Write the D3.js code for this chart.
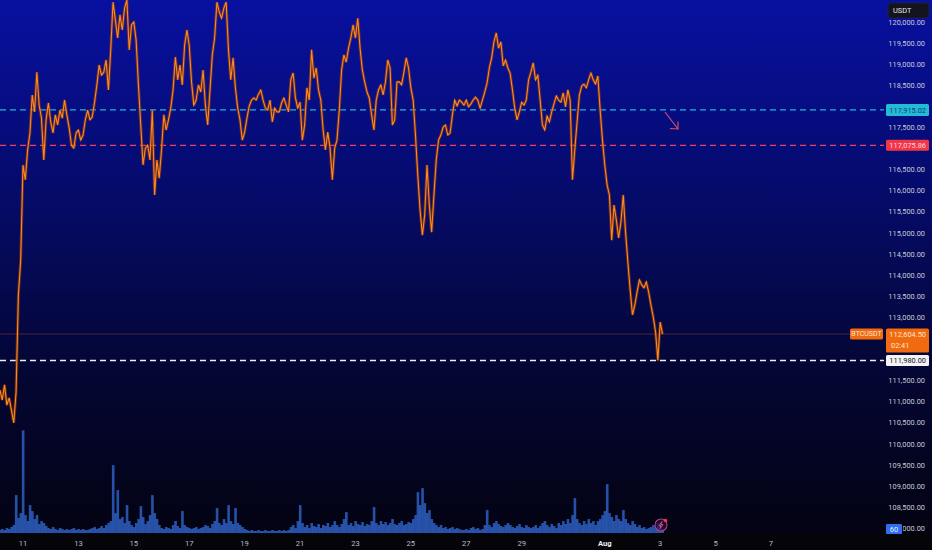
<!DOCTYPE html>
<html><head><meta charset="utf-8">
<script src="https://cdn.jsdelivr.net/npm/d3@7"></script>
<style>html,body{margin:0;padding:0;background:#05050c;}svg{display:block}</style>
</head><body><svg id="c" width="932" height="550"></svg>
<script>
// ---- data (BTCUSDT, 2h samples from 2025-07-10 04:00) ----
const startTime = Date.UTC(2025, 6, 10, 4);
const stepHours = 2;
const prices = [
111280,111040,111400,110920,111090,110800,110500,111230,113530,114360,
116610,116260,116970,117370,118270,117870,118810,118030,117720,116730,
117680,118080,117630,117370,117800,117560,117910,117720,118150,117800,
117490,117080,117010,117370,117440,117200,117320,117680,117910,117680,
117750,118100,118510,118980,118740,118810,119100,118390,119340,120470,
120050,119620,120170,119810,120330,120520,119340,119930,120000,119570,
118510,117560,116610,117010,117080,116730,117910,115900,116730,116300,
116970,117800,117440,117680,117960,118390,119170,118630,118980,118510,
119450,119810,119450,118580,118030,118150,118510,118340,118860,118030,
117560,118390,119220,119620,120470,120240,120090,120330,120470,119340,
118630,119150,118440,117960,117680,117200,117390,117720,118010,118150,
118200,118150,118290,118390,118150,117960,117910,118150,117630,117960,
117870,117870,118080,118200,118030,117870,118630,118790,118200,117960,
118100,117200,117560,118440,118150,119340,118670,118910,118390,118150,
117440,116970,117390,117010,116260,117010,117200,117910,118860,119220,
119050,119380,119620,119930,119620,120090,119380,118860,118580,118340,
118200,117800,117440,118150,118390,118510,118270,118580,119100,118910,
117560,117680,118580,118580,118510,118810,119150,118910,118440,118150,
117320,116370,115540,114950,115430,116610,115660,115020,115900,116730,
117200,117320,117510,117560,117320,117370,117800,118150,118010,118150,
118100,118030,118150,117990,118060,118150,118220,118150,117960,118150,
118340,118550,118910,119150,119530,119740,119380,119530,118960,119100,
118910,118790,118390,117960,117680,117870,118100,118030,118150,118630,
118810,119030,118630,118740,118150,117560,117440,117770,117630,117870,
118060,118250,118150,118100,118320,117990,118390,118150,116260,116970,
117630,118270,118480,118530,118440,118630,118790,118630,118530,118720,
117910,117200,116610,116140,115900,114830,115660,115310,114880,115260,
115900,115020,114310,113650,113060,113290,113600,113890,113770,113700,
113840,113600,113290,113010,112650,111980,112890,112604.5
];
const volumes = [
45,60,45,75,60,90,120,570,225,300,
1545,270,180,420,330,210,270,135,180,150,
105,75,60,90,60,45,75,60,45,60,
45,60,75,45,60,45,60,45,45,60,
75,90,60,75,105,75,120,150,180,1020,
300,645,210,240,150,420,180,120,90,150,
210,405,240,135,180,270,570,300,210,120,
75,60,90,75,60,120,180,105,75,330,
120,90,75,60,75,90,60,75,90,120,
105,75,135,180,375,150,120,210,150,420,
180,135,375,150,120,90,60,45,30,45,
30,30,45,30,30,45,30,30,45,30,
30,45,30,45,30,45,90,120,75,180,
420,150,90,120,75,150,105,90,135,75,
120,105,150,90,120,180,120,90,135,210,
315,120,150,105,180,135,120,165,105,135,
120,180,390,150,120,180,135,165,120,150,
210,135,120,150,180,120,135,165,150,210,
270,615,420,675,450,300,345,210,150,120,
90,120,75,90,60,75,90,60,75,60,
45,45,60,45,75,90,60,75,45,60,
120,345,120,90,150,180,135,105,90,120,
150,120,90,75,105,135,90,75,120,90,
75,90,120,75,105,150,180,120,90,135,
105,75,150,120,180,135,210,150,270,525,
210,150,120,180,135,210,150,180,120,180,
210,270,330,735,300,240,180,270,210,180,
345,210,150,120,180,135,90,120,75,90,
60,75,90,120,75,150,105,60
];
const priceTicks = [108000,108500,109000,109500,110000,110500,111000,111500,112000,112500,113000,113500,114000,114500,115000,115500,116000,116500,117000,117500,118000,118500,119000,119500,120000];
const dayTickDates = [[2025,6,11],[2025,6,13],[2025,6,15],[2025,6,17],[2025,6,19],[2025,6,21],[2025,6,23],[2025,6,25],[2025,6,27],[2025,6,29],[2025,7,1],[2025,7,3],[2025,7,5],[2025,7,7]];
const dayTickLabels = ["11","13","15","17","19","21","23","25","27","29","Aug","3","5","7"];
const resistanceLevel = 117915.02;
const supportLevel = 117075.86;
const lowLevel = 111980.00;
const lastPrice = 112604.50;
const countdown = "02:41";
const symbol = "BTCUSDT";
const currency = "USDT";
const lastVolumeLabel = "60";

// ---- layout ----
const W = 932, H = 550;
const plotRight = 884, plotBottom = 534;
const svg = d3.select("#c");
const defs = svg.append("defs");
const grad = defs.append("linearGradient").attr("id","bg").attr("x1",0).attr("y1",0).attr("x2",0).attr("y2",1);
grad.append("stop").attr("offset","0%").attr("stop-color","#0810a0");
grad.append("stop").attr("offset","35%").attr("stop-color","#050b6c");
grad.append("stop").attr("offset","70%").attr("stop-color","#040633");
grad.append("stop").attr("offset","100%").attr("stop-color","#030312");
svg.append("rect").attr("width",W).attr("height",H).attr("fill","#050509");
svg.append("rect").attr("width",W).attr("height",plotBottom).attr("fill","url(#bg)");
defs.append("clipPath").attr("id","clip").append("rect").attr("x",0).attr("y",0).attr("width",plotRight).attr("height",plotBottom);

const times = prices.map((_, i) => new Date(startTime + i * stepHours * 3600e3));
const x = d3.scaleUtc().domain([new Date(Date.UTC(2025,6,11)), new Date(Date.UTC(2025,7,7))]).range([23, 771]);
const y = d3.scaleLinear().domain([108000, 120000]).range([528.3, 22]);
const yv = d3.scaleLinear().domain([0, 1550]).range([533, 430]);

const plot = svg.append("g").attr("clip-path","url(#clip)");
const font = "Roboto, 'DejaVu Sans', sans-serif";

// volume bars
const bw = x(times[1]) - x(times[0]);
plot.append("g").selectAll("rect").data(volumes).join("rect")
  .attr("x", (d,i) => x(times[i]) - bw/2)
  .attr("width", bw + 0.3)
  .attr("y", d => yv(d))
  .attr("height", d => yv(0) - yv(d))
  .attr("fill", "#3065cc").attr("opacity", 0.8);

// level lines
function hline(v, color, w, dash, x2) {
  plot.append("line").attr("x1",0).attr("x2",x2).attr("y1",y(v)).attr("y2",y(v))
    .attr("stroke",color).attr("stroke-width",w).attr("stroke-dasharray",dash);
}
hline(lastPrice, "rgba(220,100,40,0.4)", 0.8, null, 850);
hline(resistanceLevel, "#25b0d6", 1.2, "6,4", plotRight);
hline(supportLevel, "#f2405a", 1.3, "6,4", plotRight);
hline(lowLevel, "#ececf2", 1.5, "6,4", plotRight);

// price line
const line = d3.line().x((d,i) => x(times[i])).y(d => y(d)).curve(d3.curveLinear);
plot.append("path").datum(prices).attr("d", line)
  .attr("fill","none").attr("stroke","#9a3c0c").attr("stroke-width",3).attr("opacity",0.6)
  .attr("stroke-linejoin","bevel");
plot.append("path").datum(prices).attr("d", line)
  .attr("fill","none").attr("stroke","#ff8a1c").attr("stroke-width",1.1);

// arrow annotation
const arrow = svg.append("g").attr("stroke","#e4506e").attr("stroke-width",1.1).attr("fill","none");
arrow.append("line").attr("x1",665).attr("y1",112).attr("x2",678).attr("y2",129);
arrow.append("path").attr("d","M670,128.5 L678,129 L678,121.5");

// right axis labels (those under a value tag are hidden, as in the chart)
const tagged = [resistanceLevel, supportLevel, lastPrice, lowLevel];
const visibleTicks = priceTicks.filter(t => tagged.every(v => Math.abs(y(t) - y(v)) > 6.5 || (v === lastPrice && Math.abs(y(t) - y(v)) > 13)));
const vy = yv(volumes[volumes.length-1]);
defs.append("clipPath").attr("id","axclip").append("rect")
  .attr("x",903).attr("y",vy - 6).attr("width",30).attr("height",12);
const axisG = svg.append("g").attr("font-family",font).attr("font-size","7.4px").attr("fill","#c9cad6");
axisG.selectAll("text").data(visibleTicks).join("text")
  .attr("x", 925).attr("y", d => y(d)).attr("dy","0.35em").attr("text-anchor","end")
  .attr("clip-path", d => Math.abs(y(d) - vy) < 6 ? "url(#axclip)" : null)
  .text(d => d3.format(",.2f")(d));

// bottom axis labels
svg.append("g").attr("font-family",font).attr("font-size","7.6px")
  .selectAll("text").data(dayTickDates).join("text")
  .attr("x", d => x(new Date(Date.UTC(d[0],d[1],d[2])))).attr("y", 543).attr("dy","0.35em")
  .attr("text-anchor","middle")
  .attr("fill", (d,i) => dayTickLabels[i] === "Aug" ? "#f0f0f4" : "#b8bac4")
  .attr("font-weight", (d,i) => dayTickLabels[i] === "Aug" ? "bold" : "normal")
  .text((d,i) => dayTickLabels[i]);

// label boxes
function tag(v, text, fill, color, x0, w, h, sub) {
  const cy = y(v);
  const top = sub ? cy - 5.5 : cy - h/2;
  svg.append("rect").attr("x",x0).attr("y",top).attr("width",w).attr("height",h).attr("rx",1.5).attr("fill",fill);
  svg.append("text").attr("x",x0 + w - 3).attr("y", sub ? top + 5.8 : cy).attr("dy","0.35em").attr("text-anchor","end")
    .attr("font-family",font).attr("font-size","7.4px").attr("fill",color).text(text);
  if (sub) svg.append("text").attr("x",x0 + 5).attr("y", top + 16.5).attr("dy","0.35em")
    .attr("font-family",font).attr("font-size","7.4px").attr("fill",color).text(sub);
}
tag(resistanceLevel, d3.format(",.2f")(resistanceLevel), "#23bcd4", "#0b3a84", 886, 43, 12);
tag(supportLevel, d3.format(",.2f")(supportLevel), "#f23649", "#ffd9dd", 886, 43, 11);
tag(lastPrice, d3.format(",.2f")(lastPrice), "#f06a10", "#ffe6d2", 886, 43, 24, countdown);
tag(lowLevel, d3.format(",.2f")(lowLevel), "#f4f4f6", "#111118", 886, 43, 11);
// symbol tag
svg.append("rect").attr("x",850).attr("y",y(lastPrice)-5.5).attr("width",33).attr("height",11).attr("rx",1.5).attr("fill","#f06a10");
svg.append("text").attr("x",866.5).attr("y",y(lastPrice)).attr("dy","0.35em").attr("text-anchor","middle")
  .attr("font-family",font).attr("font-size","7px").attr("fill","#ffe6d2").text(symbol);
// volume tag
svg.append("rect").attr("x",886).attr("y",vy - 5).attr("width",16).attr("height",10).attr("rx",1).attr("fill","#2f6ef0");
svg.append("text").attr("x",894).attr("y",vy).attr("dy","0.35em").attr("text-anchor","middle")
  .attr("font-family",font).attr("font-size","7.4px").attr("fill","#e8eeff").text(lastVolumeLabel);
// currency box
svg.append("rect").attr("x",888).attr("y",3).attr("width",41).attr("height",15).attr("rx",3).attr("fill","#14141e").attr("stroke","#2a2a36").attr("stroke-width",0.6);
svg.append("text").attr("x",893).attr("y",10.5).attr("dy","0.35em").attr("font-family",font).attr("font-size","7.4px").attr("fill","#e4e4ea").text(currency);

// lightning icon
const ic = svg.append("g").attr("transform","translate(661,525)");
ic.append("circle").attr("r",6).attr("fill","rgba(50,10,50,0.7)").attr("stroke","#a8428e").attr("stroke-width",1.1);
ic.append("path").attr("d","M1,-3.5 L-2,0.5 L0,0.5 L-1,3.5 L2,-0.5 L0,-0.5 Z").attr("fill","none").attr("stroke","#d8609e").attr("stroke-width",0.8);
ic.append("circle").attr("cx",4.5).attr("cy",-4.5).attr("r",1.8).attr("fill","#f23645");
</script></body></html>
